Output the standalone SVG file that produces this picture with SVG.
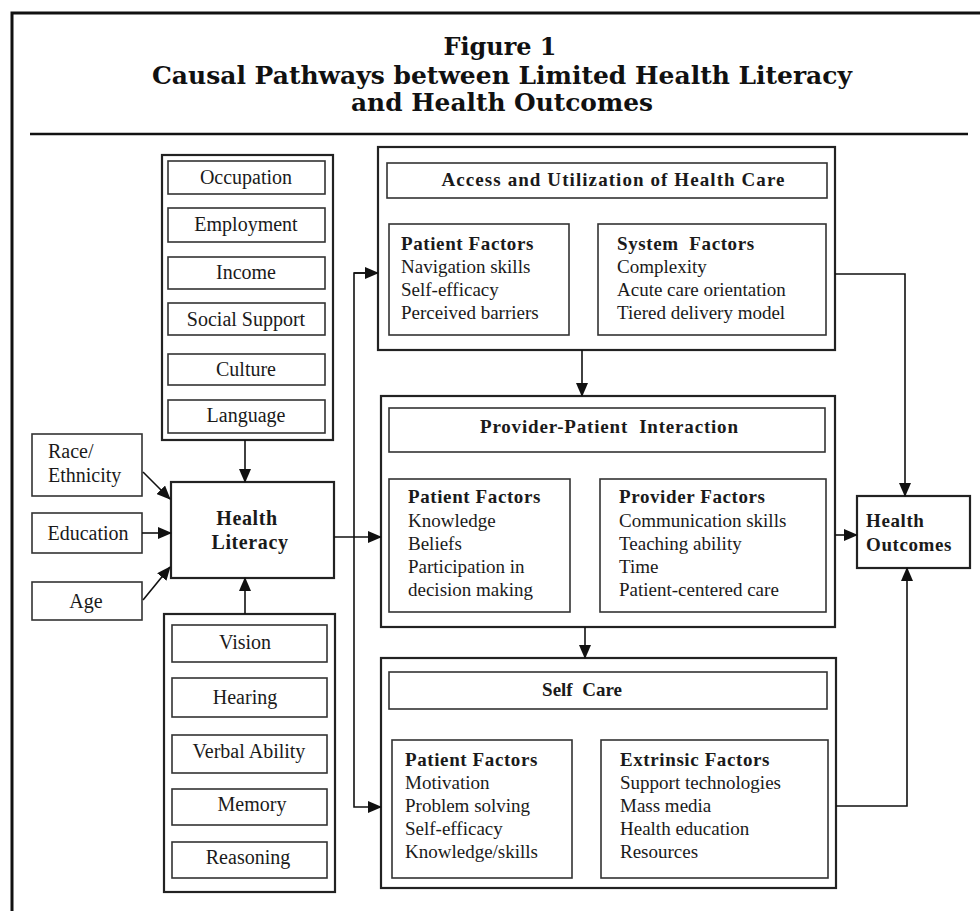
<svg xmlns="http://www.w3.org/2000/svg" width="980" height="911" viewBox="0 0 980 911">
<defs>
<marker id="ah" markerWidth="14" markerHeight="12" refX="13" refY="6" orient="auto" markerUnits="userSpaceOnUse">
<path d="M0,0 L14,6 L0,12 Z" fill="#111"/>
</marker>
<style>
.frame{fill:none;stroke:#111;stroke-width:3}
.outer{fill:#fff;stroke:#222;stroke-width:2.2}
.inner{fill:#fff;stroke:#333;stroke-width:1.6}
.t{font-family:"Liberation Serif","Times New Roman",serif;font-size:20px;fill:#1a1a1a;white-space:pre}
.tc{text-anchor:middle}
.b{font-weight:bold}
.s{font-size:19px}
.h{letter-spacing:0.6px}
.title{font-family:"DejaVu Serif","Liberation Serif",serif;font-weight:bold;font-size:24px;fill:#111;text-anchor:middle}
.c{fill:none;stroke:#111;stroke-width:1.6}
</style>
</defs>
<rect width="980" height="911" fill="#fff"/>
<g id="frame">
<path class="frame" d="M12,911 V13 H980"/>
<line x1="30" y1="134" x2="968" y2="134" stroke="#111" stroke-width="2.5"/>
<text class="title" x="500" y="55" textLength="113" lengthAdjust="spacingAndGlyphs">Figure 1</text>
<text class="title" x="502" y="84" textLength="700" lengthAdjust="spacingAndGlyphs">Causal Pathways between Limited Health Literacy</text>
<text class="title" x="502" y="111" textLength="302" lengthAdjust="spacingAndGlyphs">and Health Outcomes</text>
</g>
<g id="social-factors">
<rect class="outer" x="162" y="155" width="171" height="285"/>
<rect class="inner" x="168" y="161" width="157" height="33"/>
<text class="t tc" x="246" y="184">Occupation</text>
<rect class="inner" x="168" y="208" width="157" height="34"/>
<text class="t tc" x="246" y="231">Employment</text>
<rect class="inner" x="168" y="257" width="157" height="32"/>
<text class="t tc" x="246" y="279">Income</text>
<rect class="inner" x="168" y="303" width="157" height="32"/>
<text class="t tc" x="246" y="326">Social Support</text>
<rect class="inner" x="168" y="354" width="157" height="31"/>
<text class="t tc" x="246" y="376">Culture</text>
<rect class="inner" x="168" y="400" width="157" height="33"/>
<text class="t tc" x="246" y="422">Language</text>
</g>
<g id="race">
<rect class="inner" x="32" y="434" width="110" height="62"/>
<text class="t" x="48" y="458">Race/</text>
<text class="t" x="48" y="482">Ethnicity</text>
</g>
<g id="education">
<rect class="inner" x="32" y="513" width="110" height="40"/>
<text class="t tc" x="88" y="540">Education</text>
</g>
<g id="age">
<rect class="inner" x="32" y="582" width="110" height="38"/>
<text class="t tc" x="86" y="608">Age</text>
</g>
<g id="health-literacy">
<rect class="outer" x="171" y="482" width="163" height="96"/>
<text class="t b tc h" x="247" y="525">Health</text>
<text class="t b tc h" x="250" y="549">Literacy</text>
</g>
<g id="cognitive-factors">
<rect class="outer" x="164" y="614" width="171" height="278"/>
<rect class="inner" x="172" y="625" width="155" height="37"/>
<text class="t tc" x="245" y="649">Vision</text>
<rect class="inner" x="172" y="678" width="155" height="39"/>
<text class="t tc" x="245" y="704">Hearing</text>
<rect class="inner" x="172" y="735" width="155" height="38"/>
<text class="t tc" x="249" y="758">Verbal Ability</text>
<rect class="inner" x="172" y="789" width="155" height="36"/>
<text class="t tc" x="252" y="811">Memory</text>
<rect class="inner" x="172" y="842" width="155" height="36"/>
<text class="t tc" x="248" y="864">Reasoning</text>
</g>
<g id="access">
<rect class="outer" x="378" y="147" width="457" height="203"/>
<rect class="inner" x="387" y="163" width="440" height="35"/>
<text class="t b tc s" x="613" y="186" textLength="343" lengthAdjust="spacing">Access and Utilization of Health Care</text>
<rect class="inner" x="389" y="224" width="180" height="111"/>
<text class="t b s h" x="401" y="250">Patient Factors</text>
<text class="t s" x="401" y="273">Navigation skills</text>
<text class="t s" x="401" y="296">Self-efficacy</text>
<text class="t s" x="401" y="319">Perceived barriers</text>
<rect class="inner" x="598" y="224" width="228" height="111"/>
<text class="t b s h" x="617" y="250">System  Factors</text>
<text class="t s" x="617" y="273">Complexity</text>
<text class="t s" x="617" y="296">Acute care orientation</text>
<text class="t s" x="617" y="319">Tiered delivery model</text>
</g>
<g id="interaction">
<rect class="outer" x="381" y="396" width="454" height="231"/>
<rect class="inner" x="389" y="408" width="436" height="44"/>
<text class="t b tc s" x="609" y="433" textLength="258" lengthAdjust="spacing">Provider-Patient  Interaction</text>
<rect class="inner" x="389" y="479" width="181" height="133"/>
<text class="t b s h" x="408" y="503">Patient Factors</text>
<text class="t s" x="408" y="527">Knowledge</text>
<text class="t s" x="408" y="550">Beliefs</text>
<text class="t s" x="408" y="573">Participation in</text>
<text class="t s" x="408" y="596">decision making</text>
<rect class="inner" x="600" y="479" width="226" height="133"/>
<text class="t b s h" x="619" y="503">Provider Factors</text>
<text class="t s" x="619" y="527">Communication skills</text>
<text class="t s" x="619" y="550">Teaching ability</text>
<text class="t s" x="619" y="573">Time</text>
<text class="t s" x="619" y="596">Patient-centered care</text>
</g>
<g id="self-care">
<rect class="outer" x="381" y="658" width="455" height="230"/>
<rect class="inner" x="389" y="672" width="438" height="37"/>
<text class="t b tc s" x="582" y="696">Self  Care</text>
<rect class="inner" x="392" y="740" width="180" height="138"/>
<text class="t b s h" x="405" y="766">Patient Factors</text>
<text class="t s" x="405" y="789">Motivation</text>
<text class="t s" x="405" y="812">Problem solving</text>
<text class="t s" x="405" y="835">Self-efficacy</text>
<text class="t s" x="405" y="858">Knowledge/skills</text>
<rect class="inner" x="601" y="740" width="227" height="138"/>
<text class="t b s h" x="620" y="766">Extrinsic Factors</text>
<text class="t s" x="620" y="789">Support technologies</text>
<text class="t s" x="620" y="812">Mass media</text>
<text class="t s" x="620" y="835">Health education</text>
<text class="t s" x="620" y="858">Resources</text>
</g>
<g id="health-outcomes">
<rect class="outer" x="857" y="496" width="113" height="72"/>
<text class="t b s h" x="866" y="527">Health</text>
<text class="t b s h" x="866" y="551">Outcomes</text>
</g>
<g id="connectors">
<line class="c" x1="143" y1="472" x2="170" y2="499" marker-end="url(#ah)"/>
<line class="c" x1="142" y1="533" x2="171" y2="533" marker-end="url(#ah)"/>
<line class="c" x1="143" y1="600" x2="170" y2="567" marker-end="url(#ah)"/>
<line class="c" x1="245" y1="440" x2="245" y2="482" marker-end="url(#ah)"/>
<line class="c" x1="245" y1="614" x2="245" y2="578" marker-end="url(#ah)"/>
<line class="c" x1="334" y1="537" x2="381" y2="537" marker-end="url(#ah)"/>
<path class="c" d="M378,273 H354 V807 H381" marker-end="url(#ah)"/>
<line class="c" x1="354" y1="273" x2="378" y2="273" marker-end="url(#ah)"/>
<line class="c" x1="582" y1="350" x2="582" y2="396" marker-end="url(#ah)"/>
<line class="c" x1="585" y1="627" x2="585" y2="658" marker-end="url(#ah)"/>
<path class="c" d="M835,274 H905 V496" marker-end="url(#ah)"/>
<line class="c" x1="835" y1="535" x2="857" y2="535" marker-end="url(#ah)"/>
<path class="c" d="M836,806 H907 V568" marker-end="url(#ah)"/>
</g>
</svg>
